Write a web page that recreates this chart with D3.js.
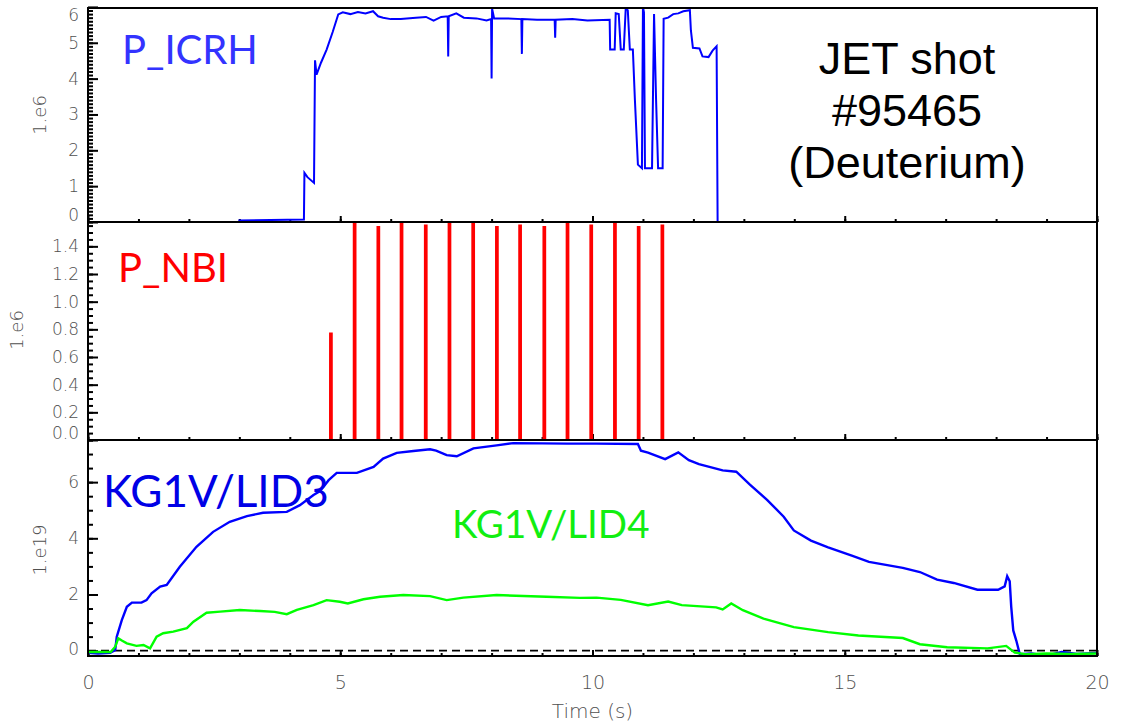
<!DOCTYPE html>
<html>
<head>
<meta charset="utf-8">
<script src="https://cdn.jsdelivr.net/npm/d3@7"></script>
<style>
  body { margin: 0; background: #fff; }
  .tick text { font-family: "DejaVu Sans", sans-serif; font-weight: 200; fill: #505050; font-size: 17px; }
  .axis path.domain { display: none; }
  .axis line { stroke: #000; stroke-width: 2; }
  .label { font-family: Lato, "Open Sans", sans-serif; font-size: 40px; }
  .unit { font-family: "DejaVu Sans", sans-serif; font-weight: 200; fill: #505050; font-size: 18px; }
</style>
</head>
<body>
<div id="chart"></div>
<script>
// ---- data ----
// P_ICRH (units 1.e6)
const icrhTime = [2.98, 4.28, 4.29, 4.35, 4.48, 4.50, 4.53, 4.62, 4.73, 4.85, 4.96, 5.05, 5.2, 5.35, 5.5, 5.65, 5.75,
  5.85, 6.0, 6.2, 6.5, 6.7, 6.85, 7.0, 7.13, 7.14, 7.15, 7.3, 7.45, 7.7, 7.9, 7.99, 8.0, 8.01, 8.05, 8.3, 8.59, 8.6,
  8.61, 8.9, 9.25, 9.26, 9.27, 9.6, 9.9, 10.34, 10.35, 10.44, 10.46, 10.52, 10.56, 10.62, 10.66, 10.70, 10.74, 10.8,
  10.84, 10.9, 10.98, 11.0, 11.02, 11.04, 11.18, 11.22, 11.26, 11.30, 11.39, 11.41, 11.5, 11.6, 11.7, 11.8, 11.93,
  11.95, 11.99, 12.12, 12.18, 12.3, 12.38, 12.46, 12.48];
const icrhValue = [0.04, 0.07, 1.37, 1.25, 1.09, 4.51, 4.11, 4.45, 4.81, 5.30, 5.79, 5.85, 5.80, 5.86, 5.82, 5.88, 5.74,
  5.70, 5.66, 5.66, 5.70, 5.72, 5.62, 5.72, 5.74, 4.62, 5.74, 5.82, 5.70, 5.68, 5.62, 5.66, 4.0, 5.95, 5.68, 5.68, 5.66, 4.69,
  5.66, 5.64, 5.64, 5.14, 5.64, 5.66, 5.62, 5.64, 4.81, 4.81, 5.82, 5.80, 4.81, 4.81, 6.0, 5.9, 4.81, 4.81,
  3.42, 1.6, 1.5, 6.0, 5.85, 1.5, 1.5, 5.8, 3.42, 1.5, 1.5, 5.67, 5.7, 5.8, 5.82, 5.88, 5.91,
  5.35, 4.86, 4.84, 4.62, 4.60, 4.78, 4.9, 0.02];

// P_NBI pulses (units 1.e6)
const nbiTime = [4.80, 5.27, 5.74, 6.20, 6.68, 7.15, 7.62, 8.09, 8.55, 9.03, 9.49, 9.96, 10.43, 10.90, 11.37];
const nbiHeight = [0.77, 1.57, 1.54, 1.56, 1.55, 1.56, 1.57, 1.54, 1.55, 1.54, 1.56, 1.55, 1.56, 1.54, 1.55];
const nbiWidth = 0.03;

// KG1V/LID3 (units 1.e19)
const lid3Time = [0.0, 0.2, 0.44, 0.54, 0.57, 0.67, 0.77, 0.87, 1.06, 1.16, 1.26, 1.43, 1.56, 1.82, 2.15, 2.48, 2.81,
  3.15, 3.47, 3.94, 4.2, 4.47, 4.6, 4.77, 4.93, 5.33, 5.66, 5.85, 6.12, 6.45, 6.78, 6.9, 7.11, 7.31, 7.64, 8.1, 8.43,
  9.0, 9.5, 10.08, 10.9, 10.96, 11.1, 11.44, 11.70, 11.91, 12.11, 12.58, 12.85, 13.12, 13.46, 13.79, 13.99, 14.33,
  14.67, 15.14, 15.48, 16.15, 16.49, 16.83, 17.16, 17.63, 18.04, 18.17, 18.22, 18.27, 18.30, 18.34, 18.40, 18.47,
  18.7, 19.0, 19.3, 19.6, 20.0];
const lid3Value = [-0.08, -0.1, -0.08, 0.02, 0.5, 1.09, 1.56, 1.71, 1.71, 1.80, 2.04, 2.28, 2.34, 2.99, 3.70, 4.23, 4.59,
  4.79, 4.91, 4.94, 5.18, 5.54, 5.68, 6.07, 6.33, 6.33, 6.54, 6.84, 7.04, 7.11, 7.17, 7.12, 6.96, 6.92, 7.2, 7.31, 7.39,
  7.38, 7.37, 7.37, 7.36, 7.12, 7.05, 6.82, 7.06, 6.78, 6.64, 6.42, 6.37, 5.91, 5.37, 4.77, 4.28, 3.92,
  3.68, 3.38, 3.16, 2.95, 2.80, 2.53, 2.41, 2.17, 2.17, 2.29, 2.65, 2.47, 1.56, 0.72, 0.36, -0.13,
  -0.1, -0.18, -0.05, -0.12, -0.08];

// KG1V/LID4 (units 1.e19)
const lid4Time = [0.0, 0.45, 0.54, 0.60, 0.67, 0.77, 0.96, 1.1, 1.23, 1.36, 1.49, 1.69, 1.96, 2.09, 2.35, 2.62, 3.01,
  3.41, 3.7, 3.94, 4.14, 4.47, 4.73, 4.99, 5.15, 5.46, 5.79, 6.25, 6.78, 7.11, 7.44, 8.1, 9.09, 9.75, 10.08, 10.56,
  11.10, 11.5, 11.77, 12.45, 12.58, 12.75, 12.98, 13.39, 13.99, 14.67, 15.27, 16.15, 16.49, 17.03, 17.83, 18.2,
  18.37, 18.6, 19.0, 19.5, 20.0];
const lid4Value = [-0.05, -0.05, 0.14, 0.44, 0.36, 0.26, 0.17, 0.2, 0.08, 0.5, 0.62, 0.68, 0.8, 1.03, 1.35, 1.39, 1.45,
  1.41, 1.38, 1.30, 1.45, 1.62, 1.80, 1.74, 1.68, 1.83, 1.92, 1.98, 1.94, 1.80, 1.89, 1.98, 1.92, 1.88, 1.89, 1.81,
  1.62, 1.75, 1.62, 1.54, 1.47, 1.68, 1.44, 1.14, 0.84, 0.66, 0.54, 0.45, 0.23, 0.12, 0.08, 0.17,
  -0.07, -0.13, -0.1, -0.12, -0.1];

// ticks
const timeTicks = [0, 5, 10, 15, 20];
const icrhTicks = [0, 1, 2, 3, 4, 5, 6];
const nbiTicks = [0.0, 0.2, 0.4, 0.6, 0.8, 1.0, 1.2, 1.4];
const lidTicks = [0, 2, 4, 6];

// ---- layout ----
const width = 1121, height = 724;
const left = 88, right = 1097;

const svg = d3.select("#chart").append("svg")
    .attr("width", width)
    .attr("height", height);

const x = d3.scaleLinear().domain([0, 20]).range([left, right]);

const panels = [
  {top: 8, bottom: 222, domain: [0, 5.97], ticks: icrhTicks, fmt: d3.format("d"), minor: 0.1, unit: "1.e6", unitX: 40, unitY: 115},
  {top: 222, bottom: 440, domain: [0, 1.576], ticks: nbiTicks, fmt: d3.format(".1f"), minor: 0.05, unit: "1.e6", unitX: 17, unitY: 330},
  {top: 440, bottom: 656, domain: [-0.19, 7.5], ticks: lidTicks, fmt: d3.format("d"), minor: 0.5, unit: "1.e19", unitX: 40, unitY: 550}
];

panels.forEach((p, i) => {
  p.y = d3.scaleLinear().domain(p.domain).range([p.bottom, p.top]);

  // clip
  svg.append("clipPath").attr("id", "clip" + i)
    .append("rect").attr("x", left).attr("y", p.top).attr("width", right - left).attr("height", p.bottom - p.top);

  // y minor ticks
  const minorVals = d3.range(Math.ceil(p.domain[0] / p.minor), Math.floor(p.domain[1] / p.minor + 1e-6) + 1)
      .map(k => k * p.minor);
  svg.append("g").attr("class", "axis")
      .attr("transform", `translate(${left},0)`)
      .call(d3.axisLeft(p.y).tickValues(minorVals).tickSize(-5).tickFormat(""));

  // y major ticks
  const ya = svg.append("g").attr("class", "axis")
      .attr("transform", `translate(${left},0)`)
      .call(d3.axisLeft(p.y).tickValues(p.ticks).tickSize(-10).tickPadding(9).tickFormat(p.fmt));
  // keep end labels inside the panel (like IDL does)
  ya.selectAll(".tick").each(function(d) {
    const ty = p.y(d);
    const cy = Math.max(p.top + 7, Math.min(p.bottom - 7, ty));
    d3.select(this).select("text").attr("y", cy - ty);
  });

  // x ticks on panel bottom, pointing up
  svg.append("g").attr("class", "axis")
      .attr("transform", `translate(0,${p.bottom})`)
      .call(d3.axisBottom(x).tickValues(d3.range(0, 21, 1)).tickSize(-3).tickFormat(""));
  svg.append("g").attr("class", "axis")
      .attr("transform", `translate(0,${p.bottom})`)
      .call(d3.axisBottom(x).tickValues(timeTicks).tickSize(-6).tickPadding(20)
        .tickFormat(i === 2 ? d3.format("d") : ""));

  // unit label
  svg.append("text").attr("class", "unit")
      .attr("transform", `translate(${p.unitX},${p.unitY}) rotate(-90)`)
      .attr("text-anchor", "middle")
      .attr("dy", "0.35em")
      .text(p.unit);
});

// bottom axis labels a touch larger
svg.selectAll(".axis .tick text").filter(function() { return this.getAttribute("dy") === "0.71em"; })
    .style("font-size", "19px");

// ---- series ----
const line = (yScale) => d3.line().x(d => x(d[0])).y(d => yScale(d[1]));

const icrh = icrhTime.map((t, i) => [t, icrhValue[i]]);
svg.append("path")
    .attr("clip-path", "url(#clip0)")
    .attr("d", line(panels[0].y)(icrh))
    .attr("fill", "none").attr("stroke", "#0000ff").attr("stroke-width", 2);

const nbi = [];
nbiTime.forEach((t, i) => {
  nbi.push([t - 0.001, 0], [t, nbiHeight[i]], [t + nbiWidth, nbiHeight[i]], [t + nbiWidth + 0.001, 0]);
});
svg.append("path")
    .attr("d", line(panels[1].y)(nbi))
    .attr("fill", "none").attr("stroke", "#ff0000").attr("stroke-width", 2.2);

const lid4 = lid4Time.map((t, i) => [t, lid4Value[i]]);
const lid3 = lid3Time.map((t, i) => [t, lid3Value[i]]);

// zero dashed line
svg.append("line")
    .attr("x1", x(0)).attr("x2", x(20))
    .attr("y1", panels[2].y(0)).attr("y2", panels[2].y(0))
    .attr("stroke", "#000").attr("stroke-width", 1.6).attr("stroke-dasharray", "8,5");

svg.append("path")
    .attr("clip-path", "url(#clip2)")
    .attr("d", line(panels[2].y)(lid3))
    .attr("fill", "none").attr("stroke", "#0000ff").attr("stroke-width", 2.4);
svg.append("path")
    .attr("clip-path", "url(#clip2)")
    .attr("d", line(panels[2].y)(lid4))
    .attr("fill", "none").attr("stroke", "#00ff00").attr("stroke-width", 2.4);

// frames
panels.forEach(p => {
  svg.append("rect")
      .attr("x", left).attr("y", p.top)
      .attr("width", right - left).attr("height", p.bottom - p.top)
      .attr("fill", "none").attr("stroke", "#000").attr("stroke-width", 2);
});

// x axis title
svg.append("text").attr("class", "unit")
    .attr("x", (left + right) / 2).attr("y", 718)
    .attr("text-anchor", "middle")
    .style("font-size", "20px")
    .text("Time (s)");

// ---- annotations ----
svg.append("text").attr("class", "label").attr("x", 122).attr("y", 64).attr("fill", "#3333ff").text("P_ICRH");
svg.append("text").attr("class", "label").attr("x", 118).attr("y", 282).attr("fill", "#ff0000").text("P_NBI");
svg.append("text").attr("class", "label").attr("x", 103).attr("y", 507).attr("fill", "#0000e6")
    .style("font-size", "44px").text("KG1V/LID3");
svg.append("text").attr("class", "label").attr("x", 452).attr("y", 538).attr("fill", "#11ee11")
    .style("font-size", "38.5px").text("KG1V/LID4");

const shot = ["JET shot", "#95465", "(Deuterium)"];
svg.append("g").selectAll("text")
  .data(shot)
  .enter().append("text")
    .attr("x", 907)
    .attr("y", (d, i) => 74 + i * 52)
    .attr("text-anchor", "middle")
    .style("font-family", "'Liberation Sans', Arial, sans-serif")
    .style("font-size", "45px")
    .attr("fill", "#000")
    .text(d => d);
</script>
</body>
</html>
